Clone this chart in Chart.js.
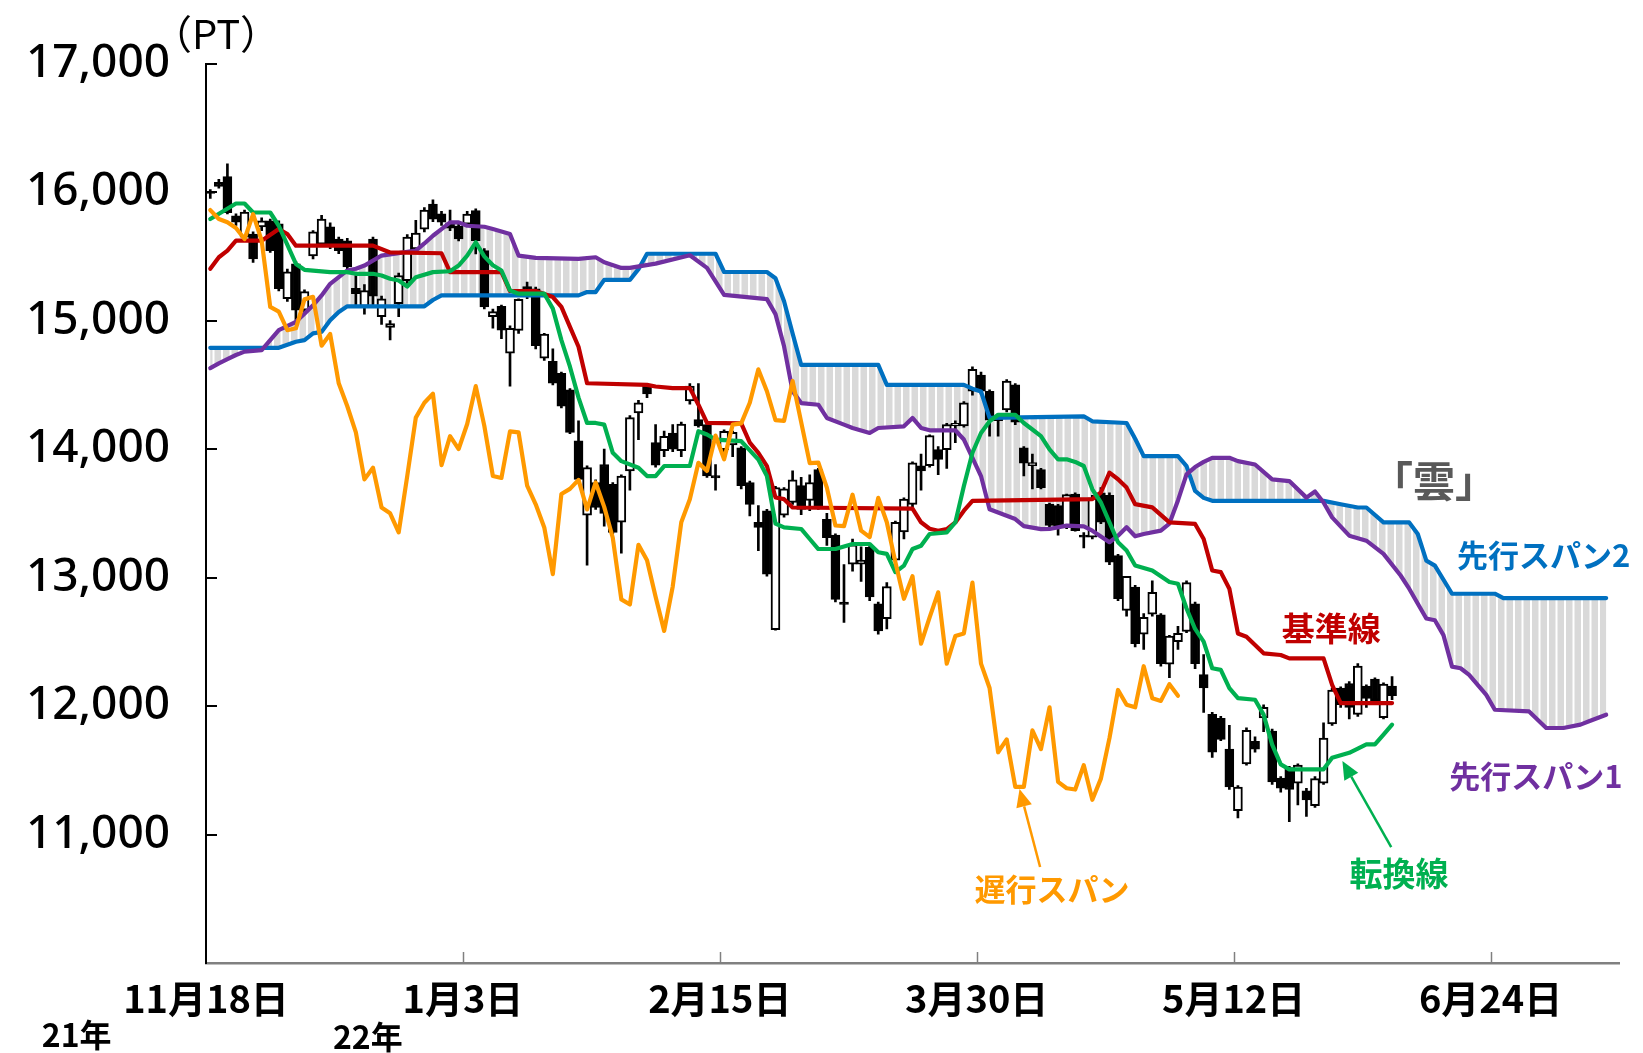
<!DOCTYPE html>
<html lang="ja">
<head>
<meta charset="UTF-8">
<title>一目均衡表</title>
<script src="https://cdn.jsdelivr.net/npm/chart.js@4.4.1/dist/chart.umd.min.js"></script>
<style>
  html, body { margin: 0; padding: 0; background: #fff; }
  #wrap { width: 1643px; height: 1053px; }
</style>
</head>
<body>
<div id="wrap"><canvas id="ichimoku" width="1643" height="1053"></canvas></div>
<script>
// --- data, one slot per trading day ---
const dateLabels = ['11月18日', '1月3日', '2月15日', '3月30日', '5月12日', '6月24日'];
const dateTicks = [0, 30, 60, 90, 120, 150];
const yTicks = [10000, 11000, 12000, 13000, 14000, 15000, 16000, 17000];

const open = [
15990,16075,16120,15815,15650,15673,15728,15777,15752,15170,
15441,15080,15503,15595,15730,15635,15620,15250,15110,15635,
15030,14946,15132,15310,15557,15712,15906,15830,15760,15736,
15750,15856,15545,15030,15110,14746,14923,15265,15248,14707,
14683,14590,14460,14065,13485,13740,13880,13726,13430,13830,
14282,14490,14050,13987,14125,13987,14375,14230,14190,13793,
13995,14032,14010,13740,13430,13520,12595,13485,13585,13715,
13600,13840,13453,13330,12810,13105,13105,13235,12795,12680,
13135,13355,13570,13870,13870,13995,13995,14180,14180,14450,
14575,14450,14240,14305,14500,14010,13870,13840,13570,13560,
13390,13650,13330,13315,13660,13640,13170,12745,12925,12560,
12715,12710,12325,12500,12580,12795,12245,11935,11905,11665,
11185,11550,11725,11907,11805,11440,11520,11400,11340,11225,
11400,11860,12140,12175,11935,12155,12210,11910,12155];
const high = [
16020,16100,16220,15830,15860,15690,15800,15790,15777,15400,
15460,15240,15700,15820,15760,15650,15640,15350,15280,15650,
15190,15000,15370,15670,15780,15880,15940,15850,15860,15750,
15850,15870,15560,15090,15120,14960,15170,15300,15260,14900,
14780,14600,14470,14220,13870,13760,14000,13740,13800,14260,
14380,14510,14190,14140,14190,14210,14510,14510,14200,13880,
14150,14140,14020,13750,13560,13530,13710,13700,13830,13780,
13800,13850,13500,13340,13100,13300,13240,13250,12810,12960,
13440,13620,13900,13960,14110,14020,14200,14220,14370,14640,
14600,14460,14250,14540,14510,14020,13960,13850,13580,13570,
13650,13660,13350,13640,13700,13660,13180,13010,12940,12720,
12975,12720,12550,12620,12975,12810,12400,11950,11920,11850,
11380,11830,11760,12010,11820,11450,11530,11550,11360,11450,
11870,12140,12150,12190,12330,12165,12220,12180,12230];
const low = [
15950,16030,15830,15740,15620,15453,15700,15530,15230,15150,
14970,15050,15480,15580,15560,15520,15400,15110,15050,15110,
14970,14850,15030,15290,15530,15690,15770,15740,15700,15620,
15730,15519,15090,14940,14860,14490,14900,15170,14780,14690,
14500,14320,14120,13750,13097,13530,13400,13340,13190,13680,
14074,14400,13860,13940,13980,13940,14350,14170,13780,13680,
13980,13940,13690,13480,13210,13010,12590,13470,13570,13490,
13520,13530,13250,12810,12650,13050,12970,12820,12560,12600,
13100,13300,13550,13680,13860,13800,13850,14050,14170,14420,
14430,14100,14100,14290,14190,13790,13690,13690,13390,13330,
13380,13360,13230,13300,13420,13100,12820,12700,12460,12440,
12700,12310,12220,12440,12570,12290,11950,11600,11730,11350,
11130,11540,11640,11800,11390,11330,11100,11230,11140,11210,
11390,11850,11990,11900,11920,11990,12030,11900,12050];
const close = [
16005,16045,15840,15765,15844,15480,15777,15545,15248,15380,
15080,15225,15690,15790,15575,15545,15418,15210,15233,15190,
15170,14977,15350,15650,15680,15860,15790,15765,15720,15635,
15828,15622,15106,15070,14925,14940,15165,15185,14805,14895,
14512,14333,14130,13764,13855,13545,13500,13352,13790,14245,
14360,14430,13875,14100,14000,14195,14490,14180,13790,13775,
14138,14130,13715,13570,13390,13027,13700,13690,13760,13530,
13740,13550,13310,12830,12790,13255,13135,12850,12585,12930,
13430,13610,13893,13830,14105,13920,14190,14200,14360,14620,
14450,14225,14220,14530,14210,13890,13895,13700,13405,13400,
13645,13365,13315,13620,13430,13120,12835,13010,12485,12690,
12885,12330,12545,12565,12960,12330,12140,11640,11740,11370,
11370,11810,11665,11990,11410,11360,11350,11540,11270,11435,
11750,12125,12010,11990,12310,12060,12040,12170,12080];

// 遅行スパン, from slot 0
const lagging = [
15860,15790,15765,15720,15635,15828,15622,15106,15070,14925,
14940,15165,15185,14805,14895,14512,14333,14130,13764,13855,
13545,13500,13352,13790,14245,14360,14430,13875,14100,14000,
14195,14490,14180,13790,13775,14138,14130,13715,13570,13390,
13027,13650,13690,13760,13530,13740,13550,13310,12830,12790,
13255,13135,12850,12585,12930,13430,13610,13893,13830,14105,
13920,14190,14200,14360,14620,14450,14225,14220,14530,14210,
13890,13895,13700,13405,13400,13645,13365,13315,13620,13430,
13120,12835,13010,12485,12690,12885,12330,12545,12565,12960,
12330,12140,11640,11740,11370,11370,11810,11665,11990,11410,
11360,11350,11540,11270,11435,11750,12125,12010,11990,12310,
12060,12040,12170,12080];

// [slot, value] vertices
const tenkan = [[0,15790],[3,15911],[4,15911],[5,15841],[7,15841],[8,15738],[10,15441],[11,15395],[14,15377],[16,15377],[17,15364],[19,15364],[20,15351],[21,15325],[22,15312],[23,15265],[24,15338],[26,15377],[28,15384],[29,15428],[30,15506],[31,15609],[32,15500],[33,15430],[34,15390],[35,15235],[36,15209],[39,15209],[40,15093],[41,14848],[42,14641],[43,14400],[44,14203],[45,14203],[46,14190],[47,13971],[48,13906],[50,13855],[51,13790],[52,13790],[53,13868],[56,13868],[57,14139],[58,14113],[59,14074],[62,14061],[63,13990],[64,13919],[65,13790],[66,13420],[67,13390],[69,13378],[70,13300],[71,13222],[73,13222],[75,13261],[77,13261],[78,13197],[79,13184],[80,13042],[81,13093],[82,13222],[83,13248],[84,13339],[86,13351],[87,13429],[88,13713],[89,13971],[90,14125],[91,14216],[92,14267],[94,14267],[95,14203],[96,14152],[97,14100],[98,13997],[99,13920],[100,13920],[101,13900],[102,13868],[103,13687],[104,13584],[105,13429],[106,13275],[107,13210],[108,13094],[110,13055],[112,12965],[113,12952],[114,12759],[115,12600],[116,12501],[117,12294],[118,12281],[119,12140],[120,12062],[122,12049],[123,11933],[124,11700],[125,11546],[126,11507],[130,11507],[131,11597],[133,11636],[135,11701],[136,11701],[137,11778],[138,11855]];
const kijun = [[0,15403],[1,15493],[2,15544],[3,15622],[6,15622],[8,15712],[9,15673],[10,15583],[19,15583],[21,15530],[27,15524],[28,15377],[34,15377],[35,15230],[38,15230],[40,15183],[41,15106],[42,14951],[43,14796],[44,14512],[51,14500],[52,14487],[54,14474],[56,14474],[57,14345],[58,14203],[62,14200],[63,14050],[64,13971],[65,13868],[66,13623],[67,13610],[68,13545],[82,13537],[83,13430],[84,13380],[85,13364],[86,13377],[87,13429],[88,13520],[89,13597],[103,13610],[104,13662],[105,13816],[106,13765],[107,13700],[108,13571],[110,13546],[112,13429],[115,13417],[116,13300],[117,13055],[118,13042],[119,12913],[120,12565],[121,12539],[123,12410],[125,12397],[126,12371],[130,12371],[131,12165],[132,12023],[138,12023]];
const span1 = [[0,14630],[1,14667],[2,14700],[3,14732],[4,14758],[6,14770],[7,14848],[8,14925],[10,14990],[11,15054],[12,15119],[13,15196],[14,15286],[16,15390],[17,15403],[18,15428],[20,15506],[22,15525],[24,15545],[25,15600],[26,15660],[27,15712],[28,15764],[29,15764],[30,15738],[32,15730],[33,15712],[35,15673],[36,15506],[38,15488],[43,15480],[45,15493],[46,15454],[48,15410],[49,15410],[52,15443],[56,15508],[58,15410],[60,15200],[65,15167],[66,15050],[67,14800],[68,14450],[69,14358],[71,14345],[72,14242],[74,14190],[75,14164],[77,14125],[78,14164],[81,14177],[82,14242],[83,14164],[84,14146],[87,14146],[88,14074],[89,13932],[90,13790],[91,13532],[92,13506],[94,13455],[95,13400],[97,13377],[98,13378],[100,13404],[102,13398],[103,13365],[105,13275],[106,13326],[107,13391],[108,13321],[109,13339],[111,13365],[112,13420],[113,13600],[114,13803],[115,13860],[116,13900],[117,13932],[119,13932],[120,13906],[122,13880],[124,13764],[126,13751],[128,13622],[129,13670],[130,13584],[131,13468],[133,13326],[135,13287],[137,13184],[139,13016],[140,12913],[142,12681],[143,12668],[144,12552],[145,12307],[146,12294],[147,12242],[149,12087],[150,11971],[154,11958],[156,11829],[158,11829],[160,11855],[161,11881],[163,11932]];
const span2 = [[0,14788],[8,14788],[10,14835],[11,14848],[12,14900],[13,14912],[14,15003],[15,15067],[16,15111],[25,15111],[26,15160],[27,15196],[43,15196],[44,15222],[45,15222],[46,15317],[49,15317],[50,15400],[51,15520],[59,15520],[60,15378],[65,15378],[66,15330],[67,15150],[68,14900],[69,14655],[78,14655],[79,14500],[88,14500],[89,14470],[90,14448],[91,14242],[102,14255],[103,14216],[107,14203],[108,14080],[109,13945],[113,13945],[114,13867],[115,13674],[116,13620],[117,13597],[130,13597],[132,13570],[134,13545],[135,13545],[137,13429],[140,13429],[141,13339],[142,13132],[143,13093],[145,12874],[150,12874],[151,12840],[163,12840]];

// --- styling / layout ---
const JP = "'Noto Sans CJK JP', sans-serif";
Chart.defaults.font.family = JP;

const mid = 0.5; // candles sit in the middle of their slot
const xy = pairs => pairs.map(p => ({ x: p[0] + mid, y: p[1] }));

const notes = [
  { text: '「雲」',      x: 143.4, y: 13754, color: '#595959', size: 42 },
  { text: '先行スパン2', x: 156.2, y: 13174, color: '#0070c0', size: 31 },
  { text: '基準線',      x: 131.4, y: 12601, color: '#c00000', size: 33 },
  { text: '先行スパン1', x: 155.3, y: 11455, color: '#7030a0', size: 31 },
  { text: '転換線',      x: 139.3, y: 10697, color: '#00b050', size: 33 },
  { text: '遅行スパン',  x: 98.8,  y: 10577, color: '#ff9900', size: 31 }
];
const arrows = [
  { from: [97.4, 10747], to: [95.0, 11355], color: '#ff9900' },
  { from: [138.4, 10901], to: [132.7, 11572], color: '#00b050' }
];
const years = [{ text: '21年', x: -15.1 }, { text: '22年', x: 18.9 }];

// hatch for the cloud
const hatch = document.createElement('canvas');
hatch.width = 17; hatch.height = 4;
(function () {
  const g = hatch.getContext('2d');
  g.fillStyle = '#d9d9d9'; g.fillRect(0, 0, 17, 4);
  g.fillStyle = '#ffffff'; g.fillRect(0, 0, 2, 4); g.fillRect(8.5, 0, 2, 4);
})();

const cloudFill = {
  id: 'cloudFill',
  beforeDatasetsDraw(chart) {
    const a = chart.getDatasetMeta(0).data;
    const b = chart.getDatasetMeta(1).data;
    const { ctx, chartArea: area } = chart;
    ctx.save();
    ctx.beginPath();
    ctx.rect(area.left, area.top, area.width, area.height);
    ctx.clip();
    ctx.beginPath();
    a.forEach((p, k) => k ? ctx.lineTo(p.x, p.y) : ctx.moveTo(p.x, p.y));
    for (let k = b.length - 1; k >= 0; k--) ctx.lineTo(b[k].x, b[k].y);
    ctx.closePath();
    ctx.fillStyle = ctx.createPattern(hatch, 'repeat');
    ctx.fill();
    ctx.restore();
  }
};

const decor = {
  id: 'decor',
  afterDraw(chart) {
    const { ctx, chartArea: area, scales: { x, y } } = chart;
    ctx.save();
    // inward ticks
    ctx.strokeStyle = '#000'; ctx.lineWidth = 2;
    yTicks.slice(1).forEach(v => {
      const py = Math.round(y.getPixelForValue(v));
      ctx.beginPath(); ctx.moveTo(area.left, py); ctx.lineTo(area.left + 11, py); ctx.stroke();
    });
    ctx.strokeStyle = '#808080'; ctx.lineWidth = 1.5;
    dateTicks.slice(1).forEach(v => {
      const px = Math.round(x.getPixelForValue(v)) + 0.5;
      ctx.beginPath(); ctx.moveTo(px, area.bottom); ctx.lineTo(px, area.bottom - 11); ctx.stroke();
    });

    ctx.textAlign = 'center'; ctx.textBaseline = 'middle';
    ctx.fillStyle = '#000';
    ctx.font = '40px ' + JP;
    ctx.fillText('（PT）', area.left + 10, area.top - 30);

    ctx.font = 'bold 32px ' + JP;
    years.forEach((t, k) => ctx.fillText(t.text, x.getPixelForValue(t.x), area.bottom + 72 + k * 2));

    notes.forEach(n => {
      ctx.font = 'bold ' + n.size + 'px ' + JP;
      ctx.fillStyle = n.color;
      ctx.fillText(n.text, x.getPixelForValue(n.x), y.getPixelForValue(n.y));
    });

    arrows.forEach(a => {
      const x0 = x.getPixelForValue(a.from[0]), y0 = y.getPixelForValue(a.from[1]);
      const x1 = x.getPixelForValue(a.to[0]), y1 = y.getPixelForValue(a.to[1]);
      const ang = Math.atan2(y1 - y0, x1 - x0);
      const hl = 18, hw = 8;
      const bx = x1 - hl * Math.cos(ang), by = y1 - hl * Math.sin(ang);
      ctx.strokeStyle = a.color; ctx.fillStyle = a.color; ctx.lineWidth = 2.5;
      ctx.beginPath(); ctx.moveTo(x0, y0); ctx.lineTo(bx, by); ctx.stroke();
      ctx.beginPath();
      ctx.moveTo(x1, y1);
      ctx.lineTo(bx + hw * Math.sin(ang), by - hw * Math.cos(ang));
      ctx.lineTo(bx - hw * Math.sin(ang), by + hw * Math.cos(ang));
      ctx.closePath(); ctx.fill();
    });
    ctx.restore();
  }
};

function lineSet(label, data, color, order) {
  return {
    type: 'line', label, data, order,
    borderColor: color, borderWidth: 4.2,
    borderJoinStyle: 'round', borderCapStyle: 'round',
    pointRadius: 0, tension: 0, fill: false
  };
}

const bodies = open.map((o, i) => ({ x: i + mid, y: [o, close[i]] }));
const wicks = high.map((h, i) => ({ x: i + mid, y: [low[i], h] }));
const lagPts = lagging.map((v, j) => ({ x: j + mid, y: v }));

new Chart(document.getElementById('ichimoku'), {
  type: 'bar',
  data: {
    datasets: [
      lineSet('先行スパン2', xy(span2), '#0070c0', 5),
      lineSet('先行スパン1', xy(span1), '#7030a0', 4),
      lineSet('基準線', xy(kijun), '#c00000', 3),
      lineSet('転換線', xy(tenkan), '#00b050', 2),
      lineSet('遅行スパン', lagPts, '#ff9900', 1),
      {
        label: 'body', data: bodies, order: 6, grouped: false,
        backgroundColor: open.map((o, i) => close[i] >= o ? '#ffffff' : '#000000'),
        borderColor: '#000', borderWidth: 2, borderSkipped: false,
        barThickness: 9
      },
      {
        label: 'wick', data: wicks, order: 7, grouped: false,
        backgroundColor: '#000', borderWidth: 0, barThickness: 2
      }
    ]
  },
  options: {
    responsive: false,
    animation: false,
    devicePixelRatio: 1,
    layout: { padding: { top: 59, right: 24, left: 0, bottom: 0 } },
    plugins: { legend: { display: false }, tooltip: { enabled: false } },
    scales: {
      x: {
        type: 'linear', min: 0, max: 165, offset: false,
        afterFit: s => { s.height = 90; },
        afterBuildTicks: s => { s.ticks = dateTicks.map(v => ({ value: v })); },
        ticks: {
          autoSkip: false, maxRotation: 0, padding: 13, color: '#000',
          font: { family: JP, size: 38, weight: 'bold' },
          callback: (v, k) => dateLabels[k]
        },
        grid: { display: false, drawTicks: false },
        border: { color: '#808080', width: 2.5 }
      },
      y: {
        min: 10000, max: 17000,
        afterFit: s => { s.width = 206; },
        afterBuildTicks: s => { s.ticks = yTicks.map(v => ({ value: v })); },
        ticks: {
          padding: 36, color: '#000',
          font: { family: "'Noto Sans', sans-serif", size: 46, weight: '500' },
          callback: v => v === 10000 ? '' : v.toLocaleString('en-US')
        },
        grid: { display: false, drawTicks: false },
        border: { color: '#000', width: 2 }
      }
    }
  },
  plugins: [cloudFill, decor]
});
</script>
</body>
</html>
